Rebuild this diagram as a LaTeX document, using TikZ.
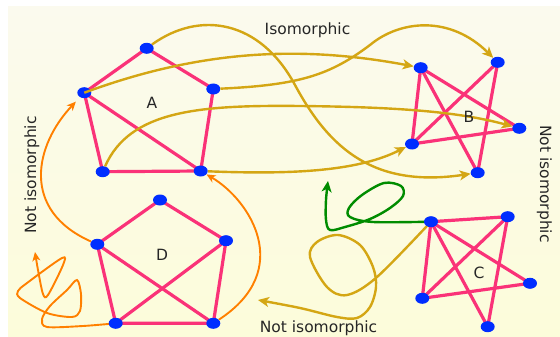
\documentclass[tikz,border=0pt]{standalone}
\usepackage{fontspec}
\setmainfont{DejaVu Sans}
\usetikzlibrary{shapes.geometric,arrows.meta}
\definecolor{edgepink}{RGB}{250,50,120}
\definecolor{vblue}{RGB}{0,45,255}
\definecolor{gold}{RGB}{212,166,20}
\definecolor{orng}{RGB}{255,128,0}
\definecolor{grn}{RGB}{0,140,0}
\definecolor{bgtop}{RGB}{251,250,238}
\definecolor{bgbot}{RGB}{252,252,218}
\pgfdeclarelayer{bglayer}
\pgfdeclarelayer{edgelayer}
\pgfsetlayers{bglayer,edgelayer,main}
\begin{document}
\begin{tikzpicture}[x=1pt,y=-1pt,
 vtx/.style={ellipse,fill=vblue,minimum width=14pt,minimum height=11pt,inner sep=0pt},
 edg/.style={draw=edgepink,line width=3.2pt},
 goldarr/.style={draw=gold,line width=2.4pt,-{Stealth[length=11pt,width=10pt,inset=3pt]}},
 orarr/.style={draw=orng,line width=1.9pt,-{Stealth[length=9pt,width=8pt,inset=2.5pt]}},
 grarr/.style={draw=grn,line width=2.4pt,-{Stealth[length=11pt,width=10pt,inset=3pt]}},
 lbl/.style={font=\fontsize{15.5}{18}\selectfont,text=black!85,inner sep=0pt},
]
\useasboundingbox (0,0) rectangle (560,337);
\begin{pgfonlayer}{bglayer}
\fill[white] (0,0) rectangle (560,337);
\shade[top color=bgtop,bottom color=bgbot] (8,7) rectangle (560,337);
\end{pgfonlayer}

% vertices
\node[vtx] (A1) at (146.7,48.3) {};
\node[vtx] (A2) at (213.3,89) {};
\node[vtx] (A3) at (84.3,92.7) {};
\node[vtx] (A4) at (102.7,171.7) {};
\node[vtx] (A5) at (200.7,171) {};
\node[vtx] (B1) at (420.7,67.7) {};
\node[vtx] (B2) at (497.7,62.3) {};
\node[vtx] (B3) at (519.3,128.3) {};
\node[vtx] (B4) at (412,144) {};
\node[vtx] (B5) at (477.7,172.7) {};
\node[vtx] (C1) at (431,221.7) {};
\node[vtx] (C2) at (507.7,216.7) {};
\node[vtx] (C3) at (530,283.3) {};
\node[vtx] (C4) at (422.3,298.3) {};
\node[vtx] (C5) at (487.7,326.7) {};
\node[vtx] (D1) at (160,200) {};
\node[vtx] (D2) at (226,240.7) {};
\node[vtx] (D3) at (97.3,244.3) {};
\node[vtx] (D4) at (115.7,323.3) {};
\node[vtx] (D5) at (213.3,323.3) {};

\coordinate (gEnd) at (258,300);
\coordinate (gnEnd) at (328,181);
\coordinate (oEnd) at (35,252);

\begin{pgfonlayer}{edgelayer}
% graph edges
\draw[edg] (A1.center) -- (A2.center) -- (A5.center) -- (A4.center) -- (A3.center) -- (A1.center);
\draw[edg] (A3.center) -- (A5.center);
\draw[edg] (B1.center) -- (B4.center);
\draw[edg] (B1.center) -- (B3.center);
\draw[edg] (B1.center) -- (B5.center);
\draw[edg] (B2.center) -- (B4.center);
\draw[edg] (B2.center) -- (B5.center);
\draw[edg] (B4.center) -- (B3.center);
\draw[edg] (C1.center) -- (C2.center);
\draw[edg] (C1.center) -- (C4.center);
\draw[edg] (C1.center) -- (C5.center);
\draw[edg] (C1.center) -- (C3.center);
\draw[edg] (C2.center) -- (C4.center);
\draw[edg] (C2.center) -- (C5.center);
\draw[edg] (C4.center) -- (C3.center);
\draw[edg] (D1.center) -- (D3.center) -- (D4.center) -- (D5.center) -- (D2.center) -- (D1.center);
\draw[edg] (D3.center) -- (D5.center);
\draw[edg] (D2.center) -- (D4.center);
% doodle connectors
\draw[goldarr] plot[smooth,tension=0.55] coordinates {(C1.center) (377,277) (347,295) (327,287) (310,257) (317,242) (338,235) (360,245) (373,267) (376,287) (370,307) (357,318) (337,317) (300,308) (gEnd)};
\draw[grarr] plot[smooth,tension=0.55] coordinates {(C1.center) (373,222) (350,217) (349,208) (362,195) (384,183) (401,186) (403,196) (390,208) (370,219) (345,227) (330,230) (326,220) (326,200) (gnEnd)};
\draw[orarr] plot[smooth,tension=0.5] coordinates {(D4.center) (83,326) (47,327) (42,319) (50,306) (67,290) (77,280) (81,294) (80,311) (72,317) (47,313) (20,298) (18,291) (27,283) (62,258) (63,265) (48,295) (43,294) (38,270) (oEnd)};
\end{pgfonlayer}

% connectors between graphs
\draw[goldarr] (A1) .. controls (200,10) and (260,20) .. (295,85) .. controls (330,150) and (375,188) .. (B5);
\draw[goldarr] (A3.center) .. controls (200,50) and (300,45) .. (B1);
\draw[goldarr] (A2) .. controls (300,85) and (330,75) .. (370,45) .. controls (400,20) and (450,15) .. (B2);
\draw[goldarr] (A4) .. controls (130,110) and (200,105) .. (300,106) .. controls (400,107) and (460,112) .. (B3);
\draw[goldarr] (A5) .. controls (300,175) and (360,170) .. (B4);
\draw[orarr,shorten >=6pt] (D3) .. controls (20,210) and (35,145) .. (A3);
\draw[orarr] (D5) .. controls (295,270) and (250,200) .. (A5);

% labels
\node[lbl] (la) at (152,103) {A};
\node[lbl] (lb) at (469,117) {B};
\node[lbl] (lc) at (479,273) {C};
\node[lbl] (ld) at (162,255) {D};
\node[lbl,anchor=base] (iso) at (307.5,34.3) {Isomorphic};
\node[lbl,anchor=base,rotate=90] (nl) at (36,175) {Not isomorphic};
\node[lbl,anchor=base,rotate=-90] (nr) at (540,184) {Not isomorphic};
\node[lbl,anchor=base] (nb) at (318.5,332.5) {Not isomorphic};
\end{tikzpicture}
\end{document}
